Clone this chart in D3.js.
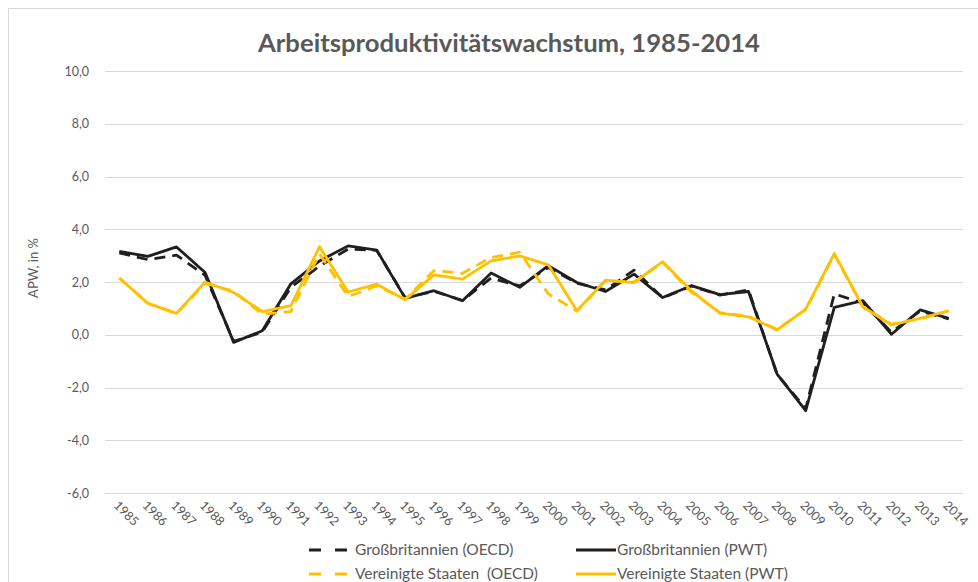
<!DOCTYPE html>
<html><head><meta charset="utf-8">
<script src="https://cdn.jsdelivr.net/npm/d3@7"></script>
<style>body{margin:0;background:#fff;}svg{display:block;}</style>
</head><body>
<svg id="c" width="978" height="582"></svg>
<script>
const years = d3.range(1985, 2015).map(String);
const gbOECD = [3.1,2.85,3.02,2.25,-0.25,0.1,1.8,2.6,3.25,3.2,1.4,1.65,1.3,2.15,1.85,2.55,1.95,1.7,2.45,1.4,1.85,1.5,1.7,-1.5,-2.8,1.55,1.2,0.1,0.9,0.6];
const gbPWT  = [3.16,2.97,3.33,2.36,-0.29,0.15,1.93,2.8,3.37,3.21,1.38,1.67,1.29,2.34,1.8,2.62,1.98,1.64,2.3,1.41,1.86,1.52,1.64,-1.49,-2.88,1.04,1.29,0.02,0.94,0.62];
const usOECD = [2.15,1.2,0.8,1.95,1.65,0.78,0.88,3.07,1.45,1.85,1.35,2.43,2.33,2.93,3.13,1.55,0.9,2.05,2.0,2.75,1.62,0.84,0.7,0.2,0.95,3.05,1.05,0.4,0.6,0.9];
const usPWT  = [2.15,1.19,0.81,2.0,1.6,0.88,1.1,3.34,1.62,1.92,1.33,2.27,2.11,2.8,2.99,2.65,0.91,2.07,1.98,2.77,1.67,0.82,0.68,0.18,0.97,3.08,1.06,0.37,0.62,0.91];
const yTicks = [-6,-4,-2,0,2,4,6,8,10];
const seriesNames = ["Großbritannien (OECD)","Großbritannien (PWT)","Vereinigte Staaten  (OECD)","Vereinigte Staaten (PWT)"];

const series = [
  {name: seriesNames[0], values: gbOECD, color: "#1f1f1f", dash: "11,7"},
  {name: seriesNames[1], values: gbPWT,  color: "#1f1f1f", dash: null},
  {name: seriesNames[2], values: usOECD, color: "#FFC000", dash: "11,7"},
  {name: seriesNames[3], values: usPWT,  color: "#FFC000", dash: null}
];

const svg = d3.select("#c");
const font = "Lato, 'Open Sans', sans-serif";
const txt = "#595959";

// chart border
svg.append("rect").attr("x", 8.5).attr("y", 8.5).attr("width", 975).attr("height", 580)
  .attr("fill", "none").attr("stroke", "#d9d9d9").attr("stroke-width", 1);

const x = d3.scaleBand().domain(years).range([105, 963]);
const y = d3.scaleLinear().domain([-6, 10]).range([493, 71]);

// gridlines
svg.append("g").selectAll("line").data(yTicks).join("line")
  .attr("x1", 105).attr("x2", 963)
  .attr("y1", d => Math.round(y(d)) + 0.5).attr("y2", d => Math.round(y(d)) + 0.5)
  .attr("stroke", "#d9d9d9").attr("stroke-width", 1);

// y axis labels
const yAxis = d3.axisLeft(y).tickValues(yTicks).tickSize(0).tickPadding(0)
  .tickFormat(d => d3.format(".1f")(d).replace(".", ",").replace("−", "-"));
const gy = svg.append("g").attr("transform", "translate(89,0)").call(yAxis);
gy.select(".domain").remove();
gy.selectAll("text").attr("font-family", font).attr("font-size", 12.5).attr("fill", txt);

// x axis labels
const xAxis = d3.axisBottom(x).tickSize(0).tickPadding(0);
const gx = svg.append("g").attr("transform", "translate(0,500)").call(xAxis);
gx.select(".domain").remove();
gx.selectAll("text")
  .attr("font-family", font).attr("font-size", 12.5).attr("fill", txt)
  .attr("text-anchor", "start").attr("dy", "0.7em").attr("y", 0).attr("x", 0)
  .attr("transform", "rotate(45)");

// y axis title
svg.append("text").attr("transform", "translate(38,268) rotate(-90)")
  .attr("text-anchor", "middle").attr("font-family", font).attr("font-size", 13)
  .attr("fill", txt).text("APW, in %");

// title
svg.append("text").attr("x", 509).attr("y", 52).attr("text-anchor", "middle")
  .attr("font-family", font).attr("font-weight", "bold").attr("font-size", 24)
  .attr("fill", txt).attr("textLength", 502).attr("lengthAdjust", "spacingAndGlyphs")
  .text("Arbeitsproduktivitätswachstum, 1985-2014");

// lines
const line = d3.line().x((d, i) => x(years[i]) + x.bandwidth() / 2).y(d => y(d));
svg.append("g").selectAll("path").data(series).join("path")
  .attr("d", d => line(d.values))
  .attr("fill", "none").attr("stroke", d => d.color).attr("stroke-width", 2.8)
  .attr("stroke-linejoin", "round")
  .attr("stroke-dasharray", d => d.dash);

// legend
const legPos = [[309, 550], [576, 550], [309, 574], [576, 574]];
const lg = svg.append("g").selectAll("g").data(series).join("g")
  .attr("transform", (d, i) => `translate(${legPos[i][0]},${legPos[i][1]})`);
lg.append("line").attr("x1", 0).attr("x2", d => d.dash ? 38 : 40).attr("y1", 0).attr("y2", 0)
  .attr("stroke", d => d.color).attr("stroke-width", 2.8)
  .attr("stroke-dasharray", d => d.dash ? "12,14" : null);
lg.append("text").attr("x", (d, i) => i % 2 === 0 ? 46 : 41).attr("y", 0).attr("dy", "0.35em")
  .attr("font-family", font).attr("font-size", 15.5).attr("fill", txt)
  .style("white-space", "pre")
  .text(d => d.name);
</script>
</body></html>
